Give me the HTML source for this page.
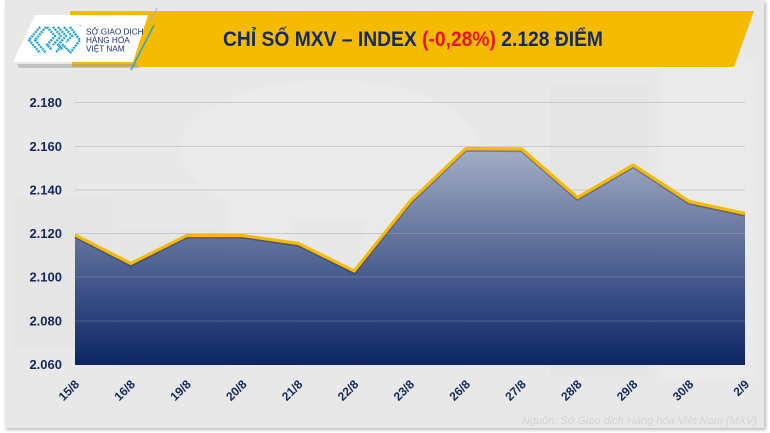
<!DOCTYPE html>
<html><head><meta charset="utf-8">
<style>
html,body{margin:0;padding:0;background:#fff;}
svg{display:block;}
</style></head>
<body>
<svg width="770" height="433" viewBox="0 0 770 433" xmlns="http://www.w3.org/2000/svg" font-family="'Liberation Sans', sans-serif">
<defs>
<linearGradient id="fillg" x1="0" y1="148" x2="0" y2="365" gradientUnits="userSpaceOnUse">
<stop offset="0" stop-color="#a3adc6"/>
<stop offset="0.4" stop-color="#62729b"/>
<stop offset="0.7" stop-color="#314782"/>
<stop offset="1" stop-color="#06205f"/>
</linearGradient>
<filter id="sh" x="-5%" y="-5%" width="110%" height="115%">
<feGaussianBlur stdDeviation="1.5"/>
</filter>
</defs>
<!-- card -->
<rect x="6" y="2" width="760" height="428" fill="#bdbdbd" filter="url(#sh)"/>
<rect x="5" y="0" width="759" height="428" fill="#e8e8e8"/>
<!-- faint decorations -->
<rect x="13" y="198" width="99" height="150" fill="#e5e5e5"/>
<rect x="120" y="227" width="99" height="140" fill="#e6e6e6"/>
<rect x="228" y="168" width="66" height="200" fill="#eaeaea"/>
<rect x="550" y="85" width="98" height="290" fill="#e5e5e5"/>
<rect x="660" y="60" width="95" height="320" fill="#eaeaea"/>
<ellipse cx="330" cy="150" rx="150" ry="70" fill="#ebebeb"/>
<ellipse cx="420" cy="260" rx="60" ry="80" fill="#eaeaea"/>
<!-- title banner -->
<polygon points="70,11 754,11 734,67 72,67" fill="#f4bb00"/>
<polygon points="17,64 136,64 140,68 19,68" fill="#9a9a9a" opacity="0.5"/>
<polygon points="35,15 148,15 133,62 13,62" fill="#ffffff"/>
<line x1="157" y1="8" x2="150" y2="22" stroke="#8fb7d6" stroke-width="1"/>
<line x1="154" y1="25" x2="131" y2="70" stroke="#2aa4dd" stroke-width="1.5"/>
<!-- logo icon -->
<g fill="none" stroke="#22a3dd" stroke-width="2.4" stroke-dasharray="2 0.8">
<polyline points="40,27 29,40 40,53"/>
<polyline points="46,27 35,40 46,53"/>
<polyline points="47,27 55,36 47,45 52,50"/>
<polyline points="53,27 61,36 53,45"/>
<polyline points="58,27 66,36 58,45 63,50"/>
<polyline points="64,27 72,36 66,42"/>
<polyline points="70,27 80,40 70,53"/>
<polyline points="56,52 63,45 70,52"/>
</g>
<text x="79" y="27" font-size="3" fill="#22a3dd">™</text>
<g font-size="8.2" fill="#1a2f6b">
<text x="86" y="34.5">SỞ GIAO DỊCH</text>
<text x="86" y="43">HÀNG HÓA</text>
<text x="86" y="51.5">VIỆT NAM</text>
</g>
<text x="223" y="46" font-size="21" font-weight="bold" fill="#14295f" textLength="380" lengthAdjust="spacingAndGlyphs">CHỈ SỐ MXV – INDEX <tspan fill="#e8141b">(-0,28%)</tspan> 2.128 ĐIỂM</text>
<!-- gridlines -->
<g stroke="#c9cbd6" stroke-width="1">
<line x1="75" y1="102.5" x2="745" y2="102.5"/>
<line x1="75" y1="146.5" x2="745" y2="146.5"/>
<line x1="75" y1="190" x2="745" y2="190"/>
<line x1="75" y1="233.5" x2="745" y2="233.5"/>
<line x1="75" y1="277" x2="745" y2="277"/>
<line x1="75" y1="321" x2="745" y2="321"/>
</g>
<!-- area -->
<polygon points="75,235 130.8,263.5 186.7,235.5 242.5,235.5 298.3,243.5 354.2,271 410,201.5 465.8,148.5 521.7,149 577.5,197.5 633.3,165 689.2,201.5 745,213.5 745,365 75,365" fill="url(#fillg)" opacity="0.97"/>
<g stroke="#c2c6d4" stroke-width="1" opacity="0.25">
<line x1="75" y1="233.5" x2="745" y2="233.5"/>
<line x1="75" y1="277" x2="745" y2="277"/>
<line x1="75" y1="321" x2="745" y2="321"/>
</g>
<polyline points="75,236.5 130.8,265 186.7,237 242.5,237 298.3,245 354.2,272.5 410,203 465.8,150 521.7,150.5 577.5,199 633.3,166.5 689.2,203 745,215" fill="none" stroke="#2a2a2a" stroke-width="3.5" opacity="0.35" stroke-linejoin="round"/>
<polyline points="75,235 130.8,263.5 186.7,235.5 242.5,235.5 298.3,243.5 354.2,271 410,201.5 465.8,148.5 521.7,149 577.5,197.5 633.3,165 689.2,201.5 745,213.5" fill="none" stroke="#f8ba00" stroke-width="3.2" stroke-linejoin="round"/>
<!-- y labels -->
<g font-size="13" font-weight="bold" fill="#14285e" text-anchor="end">
<text x="62" y="107">2.180</text>
<text x="62" y="151">2.160</text>
<text x="62" y="194.5">2.140</text>
<text x="62" y="238">2.120</text>
<text x="62" y="281.5">2.100</text>
<text x="62" y="325.5">2.080</text>
<text x="62" y="369">2.060</text>
</g>
<!-- x labels -->
<g font-size="12" font-weight="bold" fill="#14285e" text-anchor="end">
<text transform="translate(80,385) rotate(-45)">15/8</text>
<text transform="translate(135.8,385) rotate(-45)">16/8</text>
<text transform="translate(191.7,385) rotate(-45)">19/8</text>
<text transform="translate(247.5,385) rotate(-45)">20/8</text>
<text transform="translate(303.3,385) rotate(-45)">21/8</text>
<text transform="translate(359.2,385) rotate(-45)">22/8</text>
<text transform="translate(415,385) rotate(-45)">23/8</text>
<text transform="translate(470.8,385) rotate(-45)">26/8</text>
<text transform="translate(526.7,385) rotate(-45)">27/8</text>
<text transform="translate(582.5,385) rotate(-45)">28/8</text>
<text transform="translate(638.3,385) rotate(-45)">29/8</text>
<text transform="translate(694.2,385) rotate(-45)">30/8</text>
<text transform="translate(750,385) rotate(-45)">2/9</text>
</g>
<text x="757" y="424" font-size="11" font-style="italic" fill="#d2d2d2" text-anchor="end">Nguồn: Sở Giao dịch Hàng hóa Việt Nam (MXV)</text>
</svg>
</body></html>
